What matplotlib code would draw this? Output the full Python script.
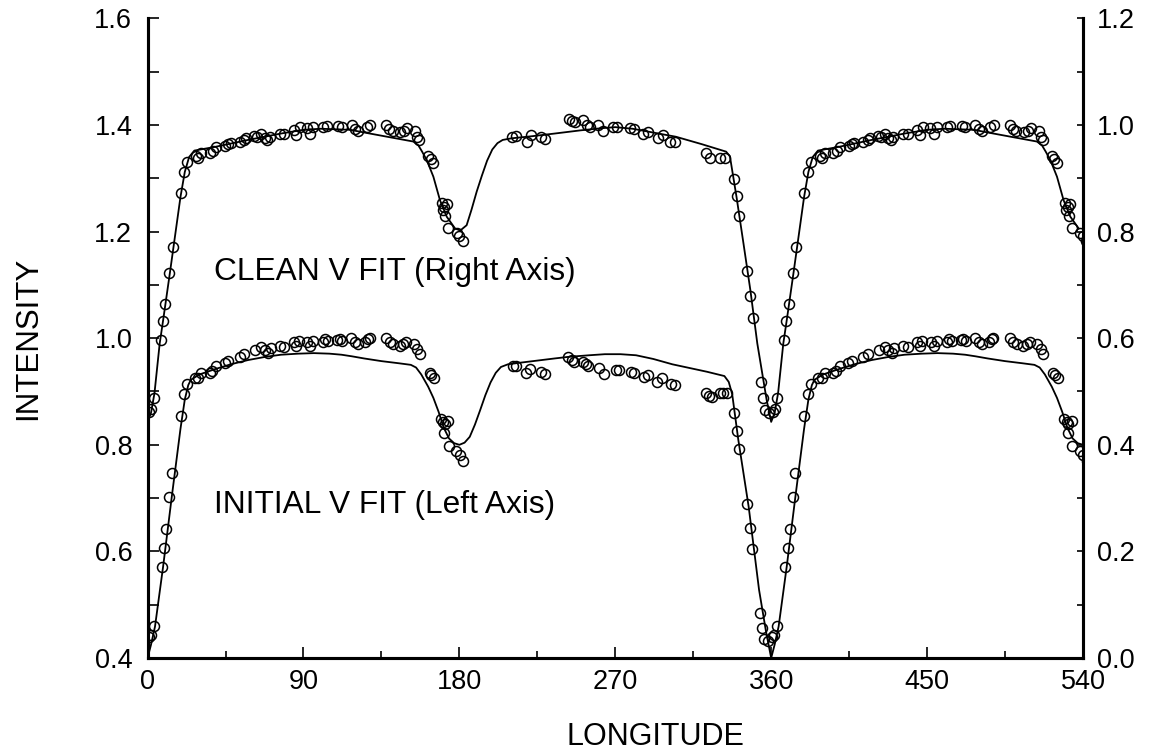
import numpy as np
import matplotlib
matplotlib.use('Agg')
import matplotlib.pyplot as plt
from matplotlib.ticker import MultipleLocator

plt.rcParams['font.family'] = ['Liberation Sans', 'DejaVu Sans']

# one orbital cycle (0-360 deg); the part below 180 is repeated at +360

# INITIAL V data / fit (left axis)
lo_x = [0.7, 1.8, 3.5, 8.2, 9.5, 10.9, 12.4, 14.0, 19.1, 21.0, 23.0,
        27.2, 29.2, 31.1, 35.9, 37.4, 39.7, 44.5, 46.5, 53.2, 55.7,
        62.2, 65.7, 67.6, 69.6, 71.1, 76.3, 78.8, 84.4, 85.9, 87.3,
        92.3, 94.0, 95.5, 101.3, 102.7, 104.2, 109.6, 110.9, 112.3, 117.7,
        120.0, 121.5, 125.7, 127.3, 128.2, 137.9, 139.8, 141.7, 145.6, 147.5,
        149.4, 153.6, 155.8, 157.1, 162.9, 163.8, 165.4, 169.2, 170.6, 171.2,
        171.5, 173.5, 173.9, 178.3, 180.2, 182.1,
        211.2, 212.5, 218.3, 220.8, 227.1, 229.5, 242.9, 244.8, 246.4, 251.6,
        252.9, 254.5, 260.6, 263.7, 270.2, 272.2, 279.1, 281.0, 286.8, 288.7,
        293.9, 297.2, 302.2, 304.5, 322.2, 324.1, 325.7, 330.5, 332.4, 334.3,
        338.7, 340.1, 341.6, 346.2, 347.8, 349.1, 353.7, 354.9, 356.0, 358.4]
lo_y = [0.440, 0.443, 0.460, 0.571, 0.606, 0.642, 0.702, 0.748, 0.854, 0.895, 0.915,
        0.925, 0.925, 0.934, 0.934, 0.939, 0.948, 0.954, 0.958, 0.965, 0.970,
        0.978, 0.984, 0.977, 0.972, 0.981, 0.985, 0.984, 0.992, 0.985, 0.995,
        0.993, 0.985, 0.995, 0.993, 0.998, 0.995, 0.997, 0.998, 0.995, 1.000,
        0.993, 0.990, 0.993, 0.998, 1.000, 1.000, 0.992, 0.989, 0.985, 0.989,
        0.993, 0.989, 0.979, 0.970, 0.935, 0.931, 0.925, 0.848, 0.843, 0.823,
        0.839, 0.845, 0.798, 0.789, 0.781, 0.770,
        0.947, 0.948, 0.934, 0.942, 0.936, 0.932, 0.964, 0.959, 0.956, 0.956,
        0.952, 0.947, 0.945, 0.933, 0.940, 0.940, 0.937, 0.935, 0.927, 0.931,
        0.918, 0.925, 0.915, 0.913, 0.898, 0.892, 0.889, 0.897, 0.898, 0.898,
        0.860, 0.826, 0.792, 0.689, 0.644, 0.604, 0.484, 0.456, 0.436, 0.432]

fit_lo_x = [0, 2, 4.3, 9, 14, 19, 21.5, 23.5, 25, 30,
            39, 48, 58, 68, 77, 87, 96, 105, 112, 118,
            125, 135, 145, 152, 155, 158, 162, 165, 168, 171,
            174, 177, 180, 183, 186, 189, 192, 195, 198, 201,
            204, 208, 215, 225, 235, 243, 255, 264, 273, 282,
            292, 303, 313, 323, 333, 335.5, 337.5, 341, 347, 353,
            357, 360]
fit_lo_y = [0.40, 0.425, 0.459, 0.572, 0.703, 0.830, 0.885, 0.912, 0.922, 0.932,
            0.942, 0.951, 0.959, 0.965, 0.969, 0.971, 0.972, 0.971, 0.969, 0.966,
            0.962, 0.957, 0.953, 0.950, 0.945, 0.932, 0.909, 0.888, 0.862, 0.832,
            0.812, 0.803, 0.800, 0.804, 0.815, 0.838, 0.865, 0.893, 0.917, 0.935,
            0.946, 0.951, 0.954, 0.958, 0.962, 0.965, 0.968, 0.970, 0.970, 0.968,
            0.961, 0.951, 0.944, 0.937, 0.929, 0.918, 0.895, 0.810, 0.684, 0.528,
            0.450, 0.400]

# CLEAN V data / fit (right axis)
up_x = [0.8, 2.2, 3.6, 7.6, 8.8, 10.3, 12.5, 14.4, 19.1, 21.0, 22.8,
        28.2, 29.2, 31.1, 35.9, 37.8, 39.7, 44.9, 46.5, 48.0, 53.2,
        55.7, 57.0, 61.5, 63.4, 65.7, 67.6, 69.2, 70.5, 76.3, 78.8,
        84.4, 85.9, 87.8, 91.9, 93.8, 95.7, 101.5, 103.4, 110.2, 112.1,
        117.9, 119.8, 121.7, 126.5, 128.4, 137.7, 139.6, 141.5, 145.8, 148.1,
        150.0, 154.4, 155.8, 156.9, 162.1, 163.5, 165.0, 169.8, 170.4, 171.2,
        171.7, 172.7, 173.7, 178.5, 180.0, 181.9,
        210.6, 212.5, 218.9, 221.4, 227.1, 229.5, 243.3, 244.8, 246.8, 251.6,
        253.5, 255.4, 260.2, 263.1, 268.9, 270.8, 278.5, 280.9, 286.2, 289.1,
        294.9, 297.4, 301.6, 304.5, 322.4, 324.7, 330.5, 333.4,
        338.6, 340.1, 341.7, 345.9, 347.8, 349.4, 354.0, 355.1, 356.5, 358.6]
up_y = [0.462, 0.468, 0.487, 0.597, 0.633, 0.665, 0.723, 0.771, 0.872, 0.912, 0.931,
        0.941, 0.938, 0.948, 0.947, 0.952, 0.958, 0.961, 0.964, 0.967, 0.968,
        0.972, 0.975, 0.979, 0.977, 0.984, 0.975, 0.971, 0.977, 0.983, 0.983,
        0.991, 0.981, 0.996, 0.994, 0.984, 0.997, 0.996, 0.998, 0.998, 0.997,
        1.000, 0.992, 0.989, 0.996, 1.000, 1.000, 0.992, 0.989, 0.986, 0.989,
        0.994, 0.988, 0.978, 0.971, 0.941, 0.936, 0.929, 0.853, 0.841, 0.846,
        0.829, 0.852, 0.806, 0.798, 0.792, 0.783,
        0.977, 0.979, 0.969, 0.981, 0.977, 0.973, 1.011, 1.008, 1.006, 1.009,
        1.000, 0.997, 1.000, 0.988, 0.997, 0.997, 0.994, 0.992, 0.984, 0.986,
        0.975, 0.981, 0.969, 0.968, 0.947, 0.938, 0.939, 0.939,
        0.898, 0.866, 0.830, 0.726, 0.680, 0.637, 0.517, 0.487, 0.465, 0.460]

fit_up_x = [0, 2, 4, 7, 9, 13, 16, 19, 21.5, 24,
            27, 39, 58, 77, 90, 100, 117, 125, 140, 153.4,
            156.3, 158.5, 161.2, 165, 168.8, 172.7, 177.5, 180.5, 184.2, 187,
            190, 193, 196, 199, 202, 205, 210, 222, 235, 250,
            262, 270, 280, 290, 305, 320, 334, 336.2, 340, 344,
            348, 352, 357.4, 360]
fit_up_y = [0.443, 0.460, 0.497, 0.590, 0.634, 0.725, 0.795, 0.865, 0.912, 0.940,
            0.952, 0.959, 0.972, 0.984, 0.991, 0.993, 0.991, 0.986, 0.977, 0.969,
            0.962, 0.950, 0.934, 0.903, 0.859, 0.828, 0.806, 0.802, 0.812, 0.841,
            0.875, 0.905, 0.933, 0.954, 0.966, 0.972, 0.975, 0.979, 0.984, 0.990,
            0.994, 0.996, 0.993, 0.987, 0.978, 0.964, 0.950, 0.941, 0.865, 0.778,
            0.690, 0.590, 0.484, 0.443]


def extend(x, y, upto=183):
    # repeat the first half cycle after 360
    x = np.asarray(x, float)
    y = np.asarray(y, float)
    m = (x > 0) & (x <= upto)
    return np.concatenate([x, x[m] + 360]), np.concatenate([y, y[m]])


fig = plt.figure(figsize=(11.51, 7.55), dpi=100)
ax = fig.add_axes([0.1282, 0.1285, 0.8127, 0.8471])
ax2 = ax.twinx()

mk = dict(ls='none', marker='o', ms=7.2, mfc='none', mec='black', mew=1.1)

x, y = extend(fit_lo_x, fit_lo_y, 180)
ax.plot(x, y, color='black', lw=1.3)
x, y = extend(lo_x, lo_y)
ax.plot(x, y, **mk)

x, y = extend(fit_up_x, fit_up_y, 180)
ax2.plot(x, y, color='black', lw=1.3)
x, y = extend(up_x, up_y)
ax2.plot(x, y, **mk)

ax.set_xlim(0, 540)
ax.set_ylim(0.4, 1.6)
ax2.set_ylim(0.0, 1.2)

ax.xaxis.set_major_locator(MultipleLocator(90))
ax.xaxis.set_minor_locator(MultipleLocator(45))
ax.yaxis.set_major_locator(MultipleLocator(0.2))
ax.yaxis.set_minor_locator(MultipleLocator(0.1))
ax2.yaxis.set_major_locator(MultipleLocator(0.2))
ax2.yaxis.set_minor_locator(MultipleLocator(0.1))
ax.yaxis.set_major_formatter(matplotlib.ticker.FormatStrFormatter('%.1f'))
ax2.yaxis.set_major_formatter(matplotlib.ticker.FormatStrFormatter('%.1f'))

ax.tick_params(axis='x', which='major', direction='in', length=8, width=1.2,
               labelsize=19.5, pad=8, top=False)
ax.tick_params(axis='x', which='minor', direction='in', length=4.7, width=1.2, top=False)
ax.tick_params(axis='y', which='both', direction='in', length=8, width=1.2,
               labelsize=19.5, pad=11, right=False)
ax2.tick_params(axis='y', which='both', direction='in', length=4, width=1.2,
                labelsize=19.5, pad=10)

for a in (ax, ax2):
    a.spines['top'].set_visible(False)
    for s in ('left', 'right', 'bottom'):
        a.spines[s].set_linewidth(2.2)

ax.set_xlabel('LONGITUDE', fontsize=22, va='center')
ax.xaxis.set_label_coords(0.5425, -0.1235)
ax.set_ylabel('INTENSITY', fontsize=22.5, va='center')
ax.yaxis.set_label_coords(-0.1277, 0.5)

ax.text(38.4, 1.109, 'CLEAN V FIT (Right Axis)', fontsize=22.8, va='baseline', ha='left')
ax.text(38.4, 0.6715, 'INITIAL V FIT (Left Axis)', fontsize=22.8, va='baseline', ha='left')

fig.savefig('out.png', dpi=100)
